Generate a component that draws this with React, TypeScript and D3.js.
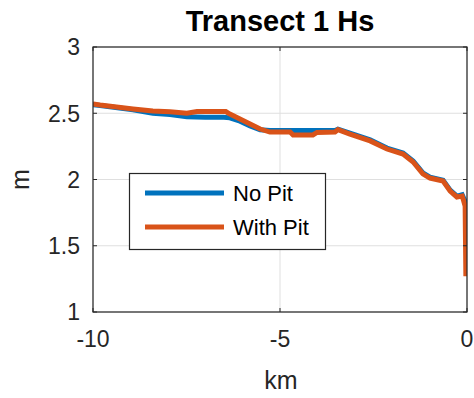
import React from 'react';
import * as d3 from 'd3';

// distance along transect (km) and Hs (m)
const noPitKm = [-10, -9.81, -8.93, -8.4, -7.94, -7.49, -7.0, -6.5, -6.34, -6.07, -5.8, -5.53, -5.27, -4.73, -4.12, -3.53, -3.45, -3.13, -2.59, -2.14, -1.71, -1.44, -1.18, -0.99, -0.64, -0.45, -0.27, -0.13, -0.06, -0.02];
const noPitHs = [2.565, 2.558, 2.527, 2.5, 2.49, 2.474, 2.47, 2.47, 2.465, 2.44, 2.405, 2.375, 2.37, 2.37, 2.37, 2.37, 2.38, 2.35, 2.3, 2.237, 2.2, 2.14, 2.05, 2.018, 1.995, 1.92, 1.875, 1.885, 1.84, 1.8];

const withPitKm = [-10, -9.81, -8.93, -8.4, -7.94, -7.49, -7.22, -6.45, -6.34, -6.07, -5.8, -5.53, -5.27, -4.73, -4.65, -4.12, -4.01, -3.53, -3.45, -3.13, -2.59, -2.14, -1.71, -1.44, -1.18, -0.99, -0.64, -0.45, -0.27, -0.13, -0.09, -0.05, -0.03];
const withPitHs = [2.57, 2.562, 2.532, 2.517, 2.512, 2.5, 2.513, 2.513, 2.494, 2.457, 2.419, 2.381, 2.358, 2.358, 2.336, 2.336, 2.355, 2.358, 2.377, 2.343, 2.291, 2.23, 2.192, 2.132, 2.042, 2.011, 1.989, 1.913, 1.868, 1.875, 1.84, 1.8, 1.27];

const xTicks = [-10, -5, 0];
const yTicks = [1, 1.5, 2, 2.5, 3];
const seriesNames = ['No Pit', 'With Pit'];
const seriesColors = ['#0072BD', '#D95319'];

const W = 474;
const H = 398;
const m = { left: 93, right: 467, top: 47, bottom: 312 };
const font = 'Liberation Sans, Arial, Helvetica, sans-serif';
const axisColor = '#262626';
const gridColor = '#dfdfdf';

export default function App() {
  const x = d3.scaleLinear().domain([-10, 0]).range([m.left, m.right]);
  const y = d3.scaleLinear().domain([1, 3]).range([m.bottom, m.top]);

  const line = d3.line<[number, number]>()
    .x(d => x(d[0]))
    .y(d => y(d[1]));

  const noPit = noPitKm.map((k, i) => [k, noPitHs[i]] as [number, number]);
  const withPit = withPitKm.map((k, i) => [k, withPitHs[i]] as [number, number]);

  const tickLen = 4;

  return (
    <svg width={W} height={H} style={{ position: 'absolute', left: 0, top: 0, background: '#fff' }}>
      <defs>
        <clipPath id="plotClip">
          <rect x={m.left} y={m.top} width={m.right - m.left} height={m.bottom - m.top} />
        </clipPath>
      </defs>
      <rect x={0} y={0} width={W} height={H} fill="#fff" />

      {/* grid */}
      {xTicks.map(t => (
        <line key={'gx' + t} x1={x(t)} x2={x(t)} y1={m.top} y2={m.bottom} stroke={gridColor} strokeWidth={1} />
      ))}
      {yTicks.map(t => (
        <line key={'gy' + t} x1={m.left} x2={m.right} y1={y(t)} y2={y(t)} stroke={gridColor} strokeWidth={1} />
      ))}

      {/* series */}
      <g clipPath="url(#plotClip)" fill="none" strokeWidth={5} strokeLinejoin="miter">
        <path d={line(noPit) || ''} stroke={seriesColors[0]} />
        <path d={line(withPit) || ''} stroke={seriesColors[1]} />
      </g>

      {/* axes box and ticks */}
      <rect x={m.left} y={m.top} width={m.right - m.left} height={m.bottom - m.top} fill="none" stroke={axisColor} strokeWidth={1.2} />
      {xTicks.map(t => (
        <g key={'tx' + t}>
          <line x1={x(t)} x2={x(t)} y1={m.bottom} y2={m.bottom - tickLen} stroke={axisColor} />
          <line x1={x(t)} x2={x(t)} y1={m.top} y2={m.top + tickLen} stroke={axisColor} />
          <text x={x(t)} y={347} textAnchor="middle" fontFamily={font} fontSize={23} fill={axisColor}>{t}</text>
        </g>
      ))}
      {yTicks.map(t => (
        <g key={'ty' + t}>
          <line x1={m.left} x2={m.left + tickLen} y1={y(t)} y2={y(t)} stroke={axisColor} />
          <line x1={m.right} x2={m.right - tickLen} y1={y(t)} y2={y(t)} stroke={axisColor} />
          <text x={80} y={y(t)} dy="0.36em" textAnchor="end" fontFamily={font} fontSize={23} fill={axisColor}>{t}</text>
        </g>
      ))}

      {/* labels */}
      <text x={(m.left + m.right) / 2} y={31} textAnchor="middle" fontFamily={font} fontSize={29} fontWeight="bold" fill="#000">Transect 1 Hs</text>
      <text x={281} y={389} textAnchor="middle" fontFamily={font} fontSize={25} fill={axisColor}>km</text>
      <text transform={`translate(29,${(m.top + m.bottom) / 2}) rotate(-90)`} textAnchor="middle" fontFamily={font} fontSize={25} fill={axisColor}>m</text>

      {/* legend */}
      <g>
        <rect x={129.5} y={173.5} width={196} height={76} fill="#fff" stroke={axisColor} strokeWidth={1.2} />
        {seriesNames.map((s, i) => (
          <g key={s}>
            <line x1={145} x2={224} y1={193 + i * 34} y2={193 + i * 34} stroke={seriesColors[i]} strokeWidth={5} />
            <text x={233} y={193 + i * 34} dy="0.36em" fontFamily={font} fontSize={22} fill="#000">{s}</text>
          </g>
        ))}
      </g>
    </svg>
  );
}
